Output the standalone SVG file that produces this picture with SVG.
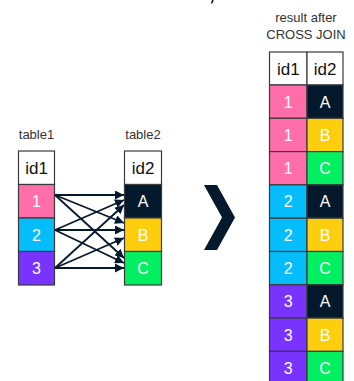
<svg xmlns="http://www.w3.org/2000/svg" width="354" height="381" viewBox="0 0 354 381">
  <style>
    .lbl { font-family: "Liberation Sans", Arial, sans-serif; font-size: 13px; fill: #333; text-anchor: middle; }
    .hdr { font-family: "Liberation Sans", Arial, sans-serif; font-size: 17px; fill: #111; text-anchor: middle; }
    .val { font-family: "Liberation Sans", Arial, sans-serif; font-size: 16px; fill: #fff; text-anchor: middle; }
    .cell { stroke: #3a3a3a; stroke-width: 1.2; }
    .head { fill: #fff; stroke: #3a3a3a; stroke-width: 1.2; }
    .pink { fill: #ff6ea9; }
    .blue { fill: #06bdfc; }
    .purple { fill: #7933ff; }
    .navy { fill: #05192d; }
    .yellow { fill: #fcce0d; }
    .green { fill: #03ef62; }
    .link { stroke: #05192d; stroke-width: 1.8; fill: none; marker-end: url(#arrow); }
  </style>
  <defs>
    <marker id="arrow" viewBox="0 0 10 10" refX="10" refY="5" markerWidth="5" markerHeight="5" orient="auto" markerUnits="strokeWidth">
      <path d="M0,0 L10,5 L0,10 z" fill="#05192d"/>
    </marker>
  </defs>

  <rect width="354" height="381" fill="#fff"/>

  <!-- clipped tail of a glyph at the top edge -->
  <path d="M213,0 L211.5,3.5" stroke="#05192d" stroke-width="1.6" fill="none"/>

  <!-- table1 -->
  <g id="table1">
    <text class="lbl" x="36.5" y="139">table1</text>
    <rect class="head" x="18.5" y="151" width="36" height="33.5"/>
    <text class="hdr" x="36.5" y="174">id1</text>
    <rect class="cell pink" x="18.5" y="184.5" width="36" height="33.5"/>
    <text class="val" x="36.5" y="207">1</text>
    <rect class="cell blue" x="18.5" y="218" width="36" height="33.5"/>
    <text class="val" x="36.5" y="240.5">2</text>
    <rect class="cell purple" x="18.5" y="251.5" width="36" height="33.5"/>
    <text class="val" x="36.5" y="274">3</text>
  </g>

  <!-- table2 -->
  <g id="table2">
    <text class="lbl" x="143" y="139">table2</text>
    <rect class="head" x="124.5" y="151" width="37" height="33.5"/>
    <text class="hdr" x="143" y="174">id2</text>
    <rect class="cell navy" x="124.5" y="184.5" width="37" height="33.5"/>
    <text class="val" x="143" y="207">A</text>
    <rect class="cell yellow" x="124.5" y="218" width="37" height="33.5"/>
    <text class="val" x="143" y="240.5">B</text>
    <rect class="cell green" x="124.5" y="251.5" width="37" height="33.5"/>
    <text class="val" x="143" y="274">C</text>
  </g>

  <!-- every id1 row linked to every id2 row -->
  <g id="connectors">
    <line class="link" x1="55" y1="195" x2="124" y2="195"/>
    <line class="link" x1="55" y1="195" x2="124" y2="223"/>
    <line class="link" x1="55" y1="195" x2="124" y2="258"/>
    <line class="link" x1="55" y1="230" x2="124" y2="200"/>
    <line class="link" x1="55" y1="230" x2="124" y2="230"/>
    <line class="link" x1="55" y1="230" x2="124" y2="263"/>
    <line class="link" x1="55" y1="268" x2="124" y2="205"/>
    <line class="link" x1="55" y1="268" x2="124" y2="238"/>
    <line class="link" x1="55" y1="268" x2="124" y2="268"/>
  </g>

  <!-- chevron -->
  <g id="chevron">
    <path d="M204,185 L217,185 L235,217.5 L217,250 L204,250 L222,217.5 Z" fill="#05192d"/>
  </g>

  <!-- result table -->
  <g id="result">
    <text class="lbl" x="306" y="22">result after</text>
    <text class="lbl" x="306" y="39">CROSS JOIN</text>
    <rect class="head" x="269.5" y="52" width="37.5" height="33"/>
    <rect class="head" x="307" y="52" width="36" height="33"/>
    <text class="hdr" x="288.3" y="75">id1</text>
    <text class="hdr" x="325" y="75">id2</text>

    <rect class="cell pink" x="269.5" y="85" width="37.5" height="33.3"/>
    <rect class="cell navy" x="307" y="85" width="36" height="33.3"/>
    <text class="val" x="288.3" y="107.5">1</text>
    <text class="val" x="325" y="107.5">A</text>

    <rect class="cell pink" x="269.5" y="118.3" width="37.5" height="33.3"/>
    <rect class="cell yellow" x="307" y="118.3" width="36" height="33.3"/>
    <text class="val" x="288.3" y="140.8">1</text>
    <text class="val" x="325" y="140.8">B</text>

    <rect class="cell pink" x="269.5" y="151.6" width="37.5" height="33.3"/>
    <rect class="cell green" x="307" y="151.6" width="36" height="33.3"/>
    <text class="val" x="288.3" y="174.1">1</text>
    <text class="val" x="325" y="174.1">C</text>

    <rect class="cell blue" x="269.5" y="184.9" width="37.5" height="33.3"/>
    <rect class="cell navy" x="307" y="184.9" width="36" height="33.3"/>
    <text class="val" x="288.3" y="207.4">2</text>
    <text class="val" x="325" y="207.4">A</text>

    <rect class="cell blue" x="269.5" y="218.2" width="37.5" height="33.3"/>
    <rect class="cell yellow" x="307" y="218.2" width="36" height="33.3"/>
    <text class="val" x="288.3" y="240.7">2</text>
    <text class="val" x="325" y="240.7">B</text>

    <rect class="cell blue" x="269.5" y="251.5" width="37.5" height="33.3"/>
    <rect class="cell green" x="307" y="251.5" width="36" height="33.3"/>
    <text class="val" x="288.3" y="274">2</text>
    <text class="val" x="325" y="274">C</text>

    <rect class="cell purple" x="269.5" y="284.8" width="37.5" height="33.3"/>
    <rect class="cell navy" x="307" y="284.8" width="36" height="33.3"/>
    <text class="val" x="288.3" y="307.3">3</text>
    <text class="val" x="325" y="307.3">A</text>

    <rect class="cell purple" x="269.5" y="318.1" width="37.5" height="33.3"/>
    <rect class="cell yellow" x="307" y="318.1" width="36" height="33.3"/>
    <text class="val" x="288.3" y="340.6">3</text>
    <text class="val" x="325" y="340.6">B</text>

    <rect class="cell purple" x="269.5" y="351.4" width="37.5" height="33.3"/>
    <rect class="cell green" x="307" y="351.4" width="36" height="33.3"/>
    <text class="val" x="288.3" y="373.9">3</text>
    <text class="val" x="325" y="373.9">C</text>
  </g>
</svg>
